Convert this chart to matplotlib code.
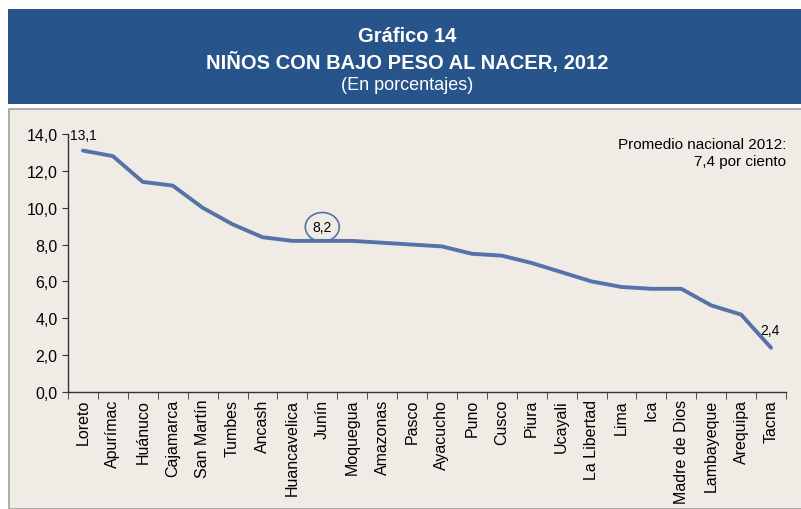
import matplotlib.pyplot as plt
from matplotlib.patches import Rectangle, Ellipse
import numpy as np

plt.rcParams['font.family'] = ['Liberation Sans', 'DejaVu Sans']

regiones = ['Loreto', 'Apurímac', 'Huánuco', 'Cajamarca', 'San Martín', 'Tumbes',
            'Ancash', 'Huancavelica', 'Junín', 'Moquegua', 'Amazonas', 'Pasco',
            'Ayacucho', 'Puno', 'Cusco', 'Piura', 'Ucayali', 'La Libertad', 'Lima',
            'Ica', 'Madre de Dios', 'Lambayeque', 'Arequipa', 'Tacna']
porcentajes = [13.1, 12.8, 11.4, 11.2, 10.0, 9.1, 8.4, 8.2, 8.2, 8.2, 8.1, 8.0,
               7.9, 7.5, 7.4, 7.0, 6.5, 6.0, 5.7, 5.6, 5.6, 4.7, 4.2, 2.4]
y_ticks = [0, 2, 4, 6, 8, 10, 12, 14]

azul = '#27548a'
linea = '#5673a9'
fondo = '#f0ebe4'

fig = plt.figure(figsize=(8.01, 5.10), dpi=100)
fig.patch.set_facecolor('white')

# banner and panel (behind the axes)
fig.patches.append(Rectangle((8 / 801, 1 - 105 / 510), 793 / 801, 95 / 510,
                             transform=fig.transFigure, facecolor=azul, edgecolor='none',
                             zorder=-10))
fig.patches.append(Rectangle((9 / 801, 0), 800 / 801, 1 - 110 / 510,
                             transform=fig.transFigure, facecolor=fondo,
                             edgecolor='#a0a0a0', linewidth=1.2, zorder=-10))

fig.text(0.508, 1 - 37 / 510, 'Gráfico 14', color='white', fontsize=14.5,
         fontweight='bold', ha='center', va='center')
fig.text(0.508, 1 - 62 / 510, 'NIÑOS CON BAJO PESO AL NACER, 2012', color='white',
         fontsize=14.5, fontweight='bold', ha='center', va='center')
fig.text(0.508, 1 - 86 / 510, '(En porcentajes)', color='white', fontsize=13,
         ha='center', va='center')

ax = fig.add_axes([68 / 801, 1 - 393 / 510, 718 / 801, 258 / 510])
ax.set_facecolor('none')
x = np.arange(len(regiones))
ax.plot(x, porcentajes, color=linea, linewidth=2.8, solid_capstyle='round',
        solid_joinstyle='round')

ax.set_xlim(-0.5, len(regiones) - 0.5)
ax.set_ylim(0, 14)
ax.set_yticks(y_ticks)
ax.set_yticklabels([f'{v:.1f}'.replace('.', ',') for v in y_ticks], fontsize=11.5)
ax.set_xticks(x)
ax.set_xticklabels(regiones, rotation=90, fontsize=11.5)
ax.tick_params(axis='x', length=0, pad=5)
ax.set_xticks(np.arange(-0.5, len(regiones), 1), minor=True)
ax.tick_params(axis='x', which='minor', length=5, color='#333333', direction='out')
ax.tick_params(axis='y', length=4, color='#333333', direction='out')
for s in ['top', 'right']:
    ax.spines[s].set_visible(False)
for s in ['left', 'bottom']:
    ax.spines[s].set_color('#333333')
    ax.spines[s].set_linewidth(1.0)

ax.annotate('13,1', (0, porcentajes[0]), xytext=(0, 11), textcoords='offset points',
            ha='center', va='center', fontsize=10)
ax.annotate('2,4', (len(regiones) - 1, porcentajes[-1]), xytext=(-1, 13),
            textcoords='offset points', ha='center', va='center', fontsize=10)
junin = regiones.index('Junín')
ax.annotate('8,2', (junin, porcentajes[junin]), xytext=(0, 10), textcoords='offset points',
            ha='center', va='center', fontsize=10)
cx, cy = ax.transData.transform((junin, porcentajes[junin]))
ell = Ellipse((cx, cy + 10 * 100 / 72), 34, 29, transform=None, fill=False,
              edgecolor=linea, linewidth=1.2)
ax.add_artist(ell)

ax.text(1.0, 0.99, 'Promedio nacional 2012:\n7,4 por ciento', transform=ax.transAxes,
        ha='right', va='top', fontsize=11, linespacing=1.3)

fig.savefig('out.png', dpi=100, facecolor=fig.get_facecolor())
